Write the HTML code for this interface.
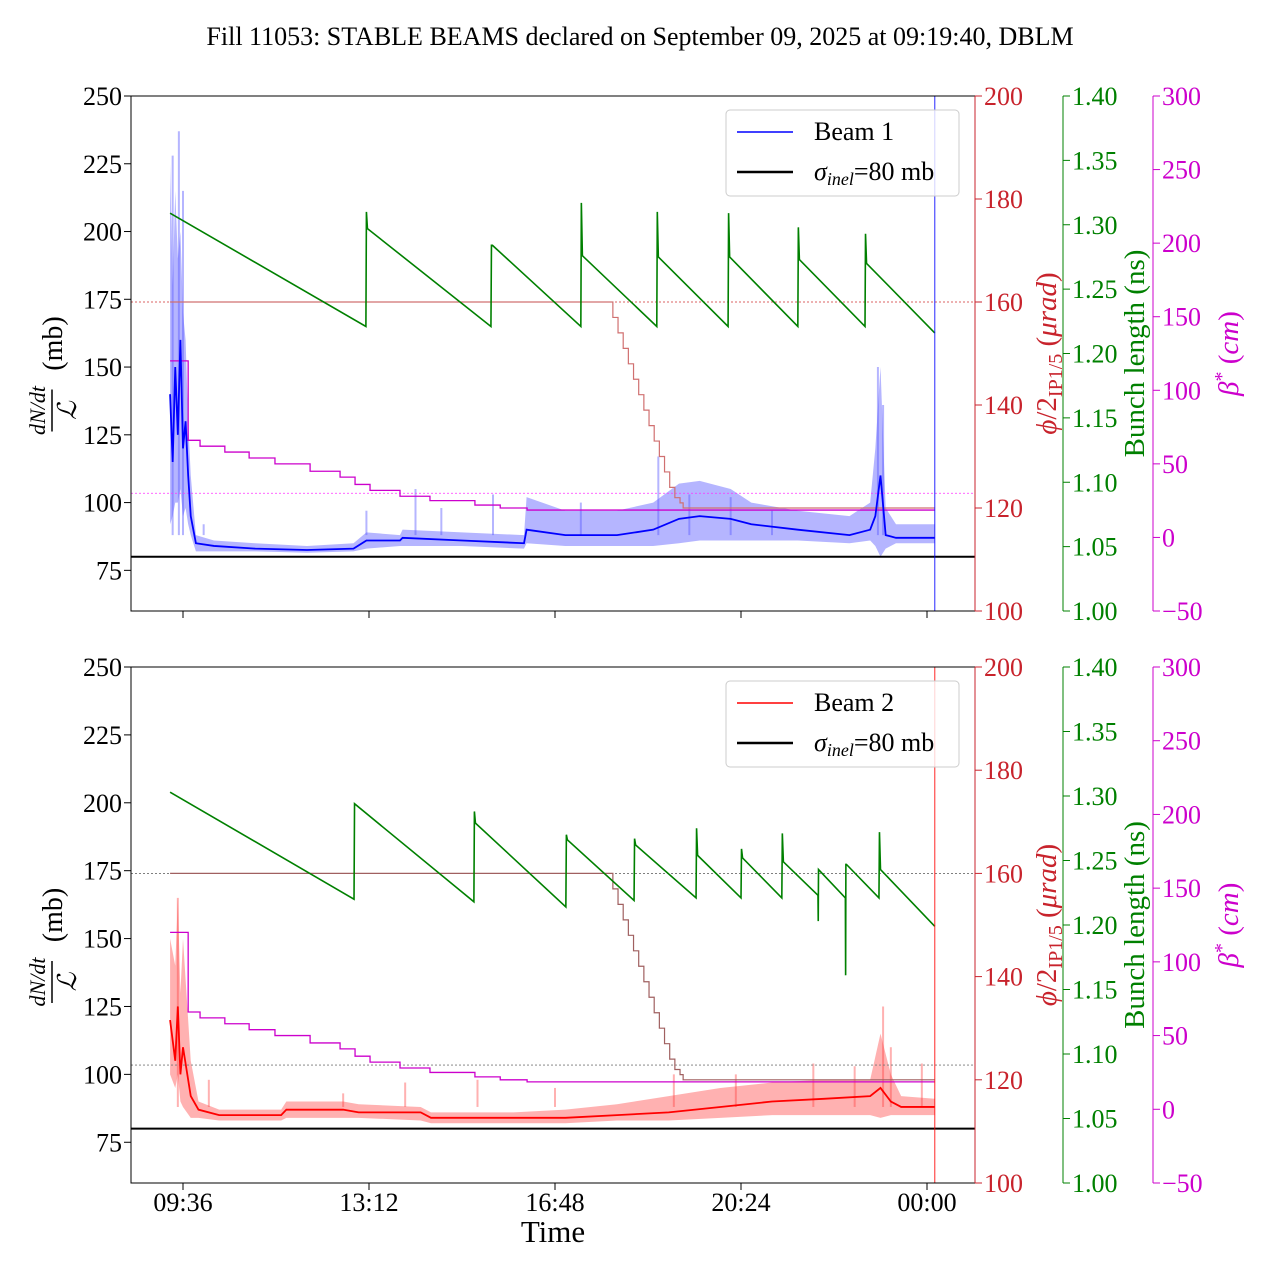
<!DOCTYPE html>
<html><head><meta charset="utf-8"><style>
body{margin:0;background:#fff}
svg{display:block;font-family:"Liberation Serif",serif}
</style></head><body>
<svg id="chart" width="1280" height="1280" viewBox="0 0 1280 1280" xmlns="http://www.w3.org/2000/svg">
<text x="640" y="45" text-anchor="middle" font-size="26">Fill 11053: STABLE BEAMS declared on September 09, 2025 at 09:19:40, DBLM</text>
</svg>
<script>
// ---- data ----
const xTickLabels = ["09:36","13:12","16:48","20:24","00:00"];
const xTickHours = [9.6,13.2,16.8,20.4,24.0];
const leftTicks = [75,100,125,150,175,200,225,250];
const redTicks = [100,120,140,160,180,200];
const greenTicks = [1.00,1.05,1.10,1.15,1.20,1.25,1.30,1.35,1.40];
const magTicks = [-50,0,50,100,150,200,250,300];

const b1T  = [9.35,9.4,9.45,9.5,9.55,9.6,9.65,9.7,9.75,9.85,10.2,11,12,12.9,13.15,13.8,13.85,15,16.2,16.25,17,18,18.7,19.2,19.6,20.2,20.6,21.5,22.5,22.9,23.0,23.1,23.2,23.4,24.15];
const b1M  = [140,115,150,125,160,120,130,110,95,85,84,83,82.5,83,86,86,87,86,85,90,88,88,90,94,95,94,92,90,88,90,95,110,88,87,87];
const b1Lo = [92,95,100,100,105,95,98,92,88,82,82,82,81.5,82,83,84,84,84,83,85,84,84,84,85,86,86,86,86,85,86,84,80,83,85,85];
const b1Hi = [225,180,215,190,200,170,160,130,110,88,86,85,84,85,89,88,90,89,88,102,97,97,100,107,108,105,100,97,95,100,120,150,98,92,92];
const b1SpikeT = [9.4,9.52,9.6,10.0,13.15,14.1,14.6,15.6,17.3,18.8,19.4,20.2,21.0,23.05,23.15];
const b1SpikeV = [228,237,215,92,97,105,98,103,100,117,103,102,97,150,136];

const b2T  = [9.35,9.45,9.5,9.55,9.6,9.75,9.9,10.3,11.5,11.6,12.7,13,14.2,14.4,16,17,18,19,20,21,22,22.9,23.1,23.3,23.5,24.15];
const b2M  = [120,105,125,100,110,92,87,85,85,87,87,86,86,84,84,84,85,86,88,90,91,92,95,90,88,88];
const b2Lo = [100,95,100,90,88,84,84,83,83,84,84,84,83,82,82,82,83,83,84,85,85,85,84,85,85,85];
const b2Hi = [150,140,165,130,150,105,90,87,87,90,90,89,88,86,86,87,89,92,95,97,98,98,115,100,92,91];
const b2SpikeT = [9.5,10.1,12.7,13.9,15.3,16.8,19.1,20.3,21.8,22.6,23.15,23.3,23.9];
const b2SpikeV = [165,98,93,97,98,95,100,100,104,103,125,110,104];

const g1T = [9.35,13.14,13.15,13.17,15.56,15.57,15.59,17.30,17.31,17.33,18.77,18.78,18.80,20.15,20.16,20.18,21.50,21.51,21.53,22.80,22.81,22.83,24.15];
const g1V = [1.309,1.221,1.310,1.297,1.221,1.284,1.284,1.221,1.317,1.276,1.221,1.310,1.275,1.221,1.309,1.275,1.221,1.298,1.273,1.221,1.293,1.270,1.216];
const g2T = [9.35,12.91,12.92,15.23,15.24,15.26,17.01,17.02,17.04,18.33,18.34,18.36,19.53,19.54,19.56,20.40,20.41,20.43,21.19,21.20,21.22,21.89,21.895,21.90,22.42,22.425,22.43,22.44,23.07,23.08,23.10,24.15];
const g2V = [1.303,1.220,1.294,1.218,1.288,1.279,1.214,1.270,1.266,1.219,1.267,1.262,1.221,1.275,1.254,1.221,1.259,1.252,1.221,1.271,1.249,1.223,1.203,1.243,1.221,1.161,1.247,1.247,1.221,1.272,1.243,1.199];

const crossT = [9.35,17.92,18.02,18.12,18.22,18.32,18.42,18.52,18.62,18.72,18.82,18.92,19.02,19.12,19.22,19.28,24.15];
const crossV = [160,157,154,151,148,145,142,139,136,133,130,127,124,122,121,120,120];
const betaT = [9.35,9.70,9.93,10.41,10.88,11.38,12.06,12.64,12.93,13.22,13.80,14.38,15.25,15.74,16.26,24.15];
const betaV = [120,66,62,58,54,50,45,41,36,32,28,25,22,20,18.6,18.6];
const sigmaInel = 80;
const crossRef = 160, betaRef = 30, endT = 24.15;

// ---- axes ----
const svg = document.getElementById('chart');
const NS = 'http://www.w3.org/2000/svg';
const L = 131, R = 975, GX = 1063, MX = 1153;
const X = t => 183 + (t - 9.6) * 186 / 3.6;
const panels = [{top:96, bot:611}, {top:667, bot:1183}];
const YL = (v,p) => p.bot - (v - 60) / 190 * (p.bot - p.top);
const YR = (v,p) => p.bot - (v - 100) / 100 * (p.bot - p.top);
const YG = (v,p) => p.bot - (v - 1.0) / 0.4 * (p.bot - p.top);
const YM = (v,p) => p.bot - (v + 50) / 350 * (p.bot - p.top);
const RED = '#c8232c', GRN = '#008000', MAG = '#cc00cc';

function mk(tag, attrs, parent) {
  const e = document.createElementNS(NS, tag);
  for (const k in attrs) e.setAttribute(k, attrs[k]);
  (parent || svg).appendChild(e);
  return e;
}
function txt(s, x, y, size, fill, anchor, parent) {
  const e = mk('text', {x:x, y:y, 'font-size':size, fill:fill, 'text-anchor':anchor}, parent);
  e.textContent = s;
  return e;
}
function poly(ts, vs, yf, p, step) {
  let pts = [];
  for (let i = 0; i < ts.length; i++) {
    if (step && i > 0) pts.push(X(ts[i]) + ',' + yf(vs[i-1], p));
    pts.push(X(ts[i]) + ',' + yf(vs[i], p));
  }
  return pts.join(' ');
}

function drawPanel(pi, bT, bM, bLo, bHi, sT, sV, gT, gV, col, band, label, refCol1, refCol2) {
  const p = panels[pi];
  const g = mk('g', {});
  
  
  const bandPts = bT.map((t,i) => X(t) + ',' + YL(bHi[i],p)).concat(bT.slice().reverse().map((t,i) => X(t) + ',' + YL(bLo[bT.length-1-i],p))).join(' ');
  const bd = mk('polygon', {points: bandPts, fill: band, stroke: 'none'}, g);
  
  
  for (let i = 0; i < sT.length; i++) {
    const s = mk('line', {x1:X(sT[i]), x2:X(sT[i]), y1:YL(88, p), y2:YL(sV[i], p), stroke: band, 'stroke-width':2}, g);
    
    
  }
  const r1 = mk('line', {x1:L, x2:R, y1:YR(crossRef,p), y2:YR(crossRef,p), stroke:refCol1, 'stroke-width':0.8, 'stroke-dasharray':'2,2'}, g);
  
  
  const r2 = mk('line', {x1:L, x2:R, y1:YM(betaRef,p), y2:YM(betaRef,p), stroke:refCol2, 'stroke-width':0.8, 'stroke-dasharray':'2,2'}, g);
  
  
  const cr = mk('polyline', {points: poly(crossT, crossV, YR, p, true), fill:'none', stroke: pi ? '#a06060' : '#d07070', 'stroke-width':1.2}, g);
  
  
  const bt = mk('polyline', {points: poly(betaT, betaV, YM, p, true), fill:'none', stroke: MAG, 'stroke-width':1.3}, g);
  
  
  const gr = mk('polyline', {points: poly(gT, gV, YG, p, false), fill:'none', stroke: GRN, 'stroke-width':1.6}, g);
  
  
  const bm = mk('polyline', {points: poly(bT, bM, YL, p, false), fill:'none', stroke: col, 'stroke-width':1.8}, g);
  
  
  const sg = mk('line', {x1:L, x2:R, y1:YL(sigmaInel,p), y2:YL(sigmaInel,p), stroke:'#000', 'stroke-width':2}, g);
  
  
  const ev = mk('line', {x1:X(endT), x2:X(endT), y1:p.top, y2:p.bot, stroke: col, 'stroke-width':1.2, opacity:0.7}, g);
  
  

  const fr = mk('rect', {x:L, y:p.top, width:R-L, height:p.bot-p.top, fill:'none', stroke:'#000', 'stroke-width':1}, g);
  
  
  mk('line', {x1:R, x2:R, y1:p.top, y2:p.bot, stroke:RED, 'stroke-width':1}, g);
  const gs = mk('line', {x1:GX, x2:GX, y1:p.top, y2:p.bot, stroke:GRN, 'stroke-width':1}, g);
  
  
  const ms = mk('line', {x1:MX, x2:MX, y1:p.top, y2:p.bot, stroke:MAG, 'stroke-width':1}, g);
  
  

  leftTicks.forEach(v => { const y = YL(v,p); mk('line',{x1:L-7,x2:L,y1:y,y2:y,stroke:'#000'},g); txt(String(v), L-9, y+9, 26, '#000', 'end', g); });
  redTicks.forEach(v => { const y = YR(v,p); mk('line',{x1:R,x2:R+7,y1:y,y2:y,stroke:RED},g); txt(String(v), R+9, y+9, 26, RED, 'start', g); });
  greenTicks.forEach(v => { const y = YG(v,p); mk('line',{x1:GX,x2:GX+7,y1:y,y2:y,stroke:GRN},g); txt(v.toFixed(2), GX+9, y+9, 26, GRN, 'start', g); });
  magTicks.forEach(v => { const y = YM(v,p); mk('line',{x1:MX,x2:MX+7,y1:y,y2:y,stroke:MAG},g); txt(v < 0 ? '\u2212' + (-v) : String(v), MX+9, y+9, 26, MAG, 'start', g); });
  xTickHours.forEach((h,i) => { const x = X(h); mk('line',{x1:x,x2:x,y1:p.bot,y2:p.bot+7,stroke:'#000'},g); if (pi === 1) txt(xTickLabels[i], x, p.bot+28, 26, '#000', 'middle', g); });

  const cy = (p.top + p.bot) / 2;
  const yl = mk('g', {transform:'translate(52,' + cy + ') rotate(-90)'}, g);
  
  
  const t1 = txt('dN/dt', -57, -7, 22, '#000', 'middle', yl); t1.setAttribute('font-style','italic');
  mk('line', {x1:-78, x2:-36, y1:0, y2:0, stroke:'#000', 'stroke-width':1.5}, yl);
  const t2 = txt('\u2112', -57, 24, 26, '#000', 'middle', yl); t2.setAttribute('font-style','italic');
  txt('(mb)', 10, 10, 28, '#000', 'middle', yl);

  const rl = mk('text', {transform:'translate(1056,' + cy + ') rotate(-90)', 'font-size':29, fill:RED, 'text-anchor':'middle'}, g);
  
  
  rl.innerHTML = '<tspan font-style="italic">\u03d5</tspan>/2<tspan font-size="20" dy="6">IP1/5</tspan><tspan dy="-6"> (</tspan><tspan font-style="italic">\u03bcrad</tspan>)';
  const gl = mk('text', {transform:'translate(1144,' + cy + ') rotate(-90)', 'font-size':29, fill:GRN, 'text-anchor':'middle'}, g);
  
  
  gl.textContent = 'Bunch length (ns)';
  const ml = mk('text', {transform:'translate(1238,' + cy + ') rotate(-90)', 'font-size':29, fill:MAG, 'text-anchor':'middle'}, g);
  
  
  ml.innerHTML = '<tspan font-style="italic">\u03b2</tspan><tspan font-size="20" dy="-10">*</tspan><tspan dy="10"> (</tspan><tspan font-style="italic">cm</tspan>)';

  const lg = mk('g', {}, g);
  
  
  const ly = p.top + 14;
  mk('rect', {x:726, y:ly, width:233, height:86, rx:4, fill:'#fff', 'fill-opacity':0.8, stroke:'#ccc'}, lg);
  mk('line', {x1:737, x2:793, y1:ly+22, y2:ly+22, stroke:col, 'stroke-width':1.5}, lg);
  txt(label, 814, ly+30, 26, '#000', 'start', lg);
  mk('line', {x1:737, x2:793, y1:ly+62, y2:ly+62, stroke:'#000', 'stroke-width':2.5}, lg);
  const sl = mk('text', {x:814, y:ly+70, 'font-size':26, fill:'#000'}, lg);
  sl.innerHTML = '<tspan font-style="italic">\u03c3</tspan><tspan font-size="18" dy="5" font-style="italic">inel</tspan><tspan dy="-5">=80 mb</tspan>';
}

drawPanel(0, b1T, b1M, b1Lo, b1Hi, b1SpikeT, b1SpikeV, g1T, g1V, '#0000ff', 'rgba(90,90,255,0.45)', 'Beam 1', '#d03030', '#ff33ff');
drawPanel(1, b2T, b2M, b2Lo, b2Hi, b2SpikeT, b2SpikeV, g2T, g2V, '#ff0000', 'rgba(255,60,60,0.4)', 'Beam 2', '#555', '#777');

const xt = txt('Time', 553, 1242, 31, '#000', 'middle');


</script>
</body></html>
